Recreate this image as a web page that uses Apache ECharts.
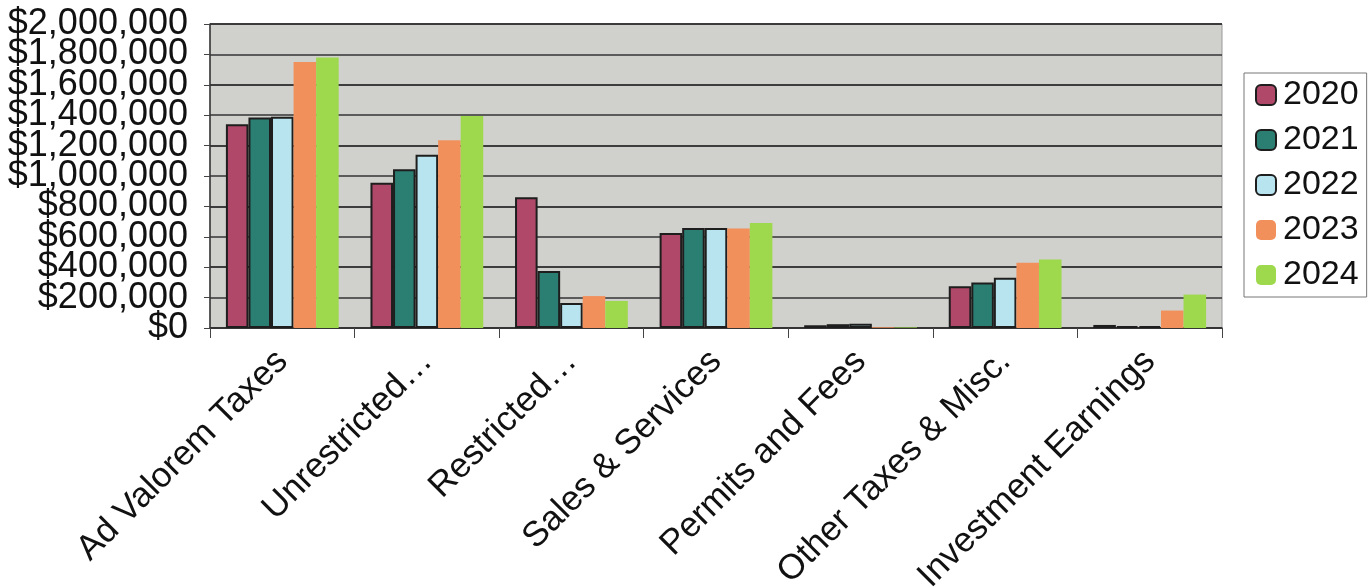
<!DOCTYPE html>
<html>
<head>
<meta charset="utf-8">
<script src="https://cdn.jsdelivr.net/npm/echarts@6/dist/echarts.min.js"></script>
<style>
html,body{margin:0;padding:0;background:#fff;}
#chart{width:1371px;height:587px;}
</style>
</head>
<body>
<div id="chart"></div>
<script>
const categories = ['Ad Valorem Taxes', 'Unrestricted…', 'Restricted…', 'Sales & Services', 'Permits and Fees', 'Other Taxes & Misc.', 'Investment Earnings'];
const years = ['2020', '2021', '2022', '2023', '2024'];
const v2020 = [1340000, 955000, 860000, 625000, 18000, 275000, 20000];
const v2021 = [1385000, 1045000, 375000, 658000, 25000, 300000, 12000];
const v2022 = [1390000, 1140000, 165000, 658000, 28000, 330000, 12000];
const v2023 = [1750000, 1235000, 210000, 655000, 5000, 430000, 115000];
const v2024 = [1780000, 1395000, 178000, 690000, 4000, 450000, 220000];
const yTicks = { min: 0, max: 2000000, interval: 200000 };

const values = [v2020, v2021, v2022, v2023, v2024];
const colors = ['#b0486a', '#2b7e72', '#b8e4f0', '#f2905c', '#9ed84c'];
const borders = [2, 2, 2, 0, 0];
const FONT = 'Liberation Sans';
const fmt = v => '$' + v.toLocaleString('en-US');
const even = v => Math.round(v / yTicks.interval) % 2 === 0;

const labelBase = { fontSize: 36, color: '#111', margin: 22, fontFamily: FONT, hideOverlap: false, showMinLabel: true, showMaxLabel: true };

const chart = echarts.init(document.getElementById('chart'));
chart.setOption({
  animation: false,
  backgroundColor: '#ffffff',
  textStyle: { fontFamily: FONT },
  grid: {
    left: 210, right: 149, top: 24, bottom: 259,
    outerBoundsMode: 'none', containLabel: false,
    show: true, backgroundColor: '#d0d1cd', borderColor: '#9a9a9a', borderWidth: 1
  },
  legend: {
    orient: 'vertical', left: 1244, top: 73,
    padding: [5, 8, 5, 11], itemGap: 11, itemWidth: 20, itemHeight: 20,
    borderColor: '#777', borderWidth: 1, backgroundColor: '#fff',
    textStyle: { fontFamily: FONT, fontSize: 34, color: '#111', padding: [0, 0, 0, 2] },
    data: years
  },
  xAxis: {
    type: 'category', data: categories,
    axisLine: { lineStyle: { color: '#333', width: 1.5 } },
    axisTick: { show: true, length: 10, lineStyle: { color: '#444' } },
    axisLabel: { rotate: 45, fontSize: 35, color: '#111', margin: 28, interval: 0, fontFamily: FONT }
  },
  yAxis: [
    {
      type: 'value', min: yTicks.min, max: yTicks.max, interval: yTicks.interval * 2,
      axisLine: { show: true, lineStyle: { color: '#333', width: 1.5 } },
      axisTick: { show: true, length: 6, lineStyle: { color: '#444' } },
      splitLine: { lineStyle: { color: '#333', width: 1.5 } },
      axisLabel: Object.assign({}, labelBase, { formatter: fmt })
    },
    {
      type: 'value', position: 'left', min: yTicks.min, max: yTicks.max, interval: yTicks.interval,
      axisLine: { show: false },
      axisTick: { show: true, length: 6, lineStyle: { color: '#444' } },
      splitLine: { show: true, lineStyle: { color: '#333', width: 1.5 } },
      axisLabel: Object.assign({}, labelBase, { formatter: v => even(v) ? '' : fmt(v) })
    }
  ],
  series: years.map((y, i) => ({
    name: y, type: 'bar', data: values[i], yAxisIndex: 0,
    barGap: '0%', barCategoryGap: '22%',
    itemStyle: { color: colors[i], borderColor: '#1e1e1e', borderWidth: borders[i] }
  }))
});
</script>
</body>
</html>
